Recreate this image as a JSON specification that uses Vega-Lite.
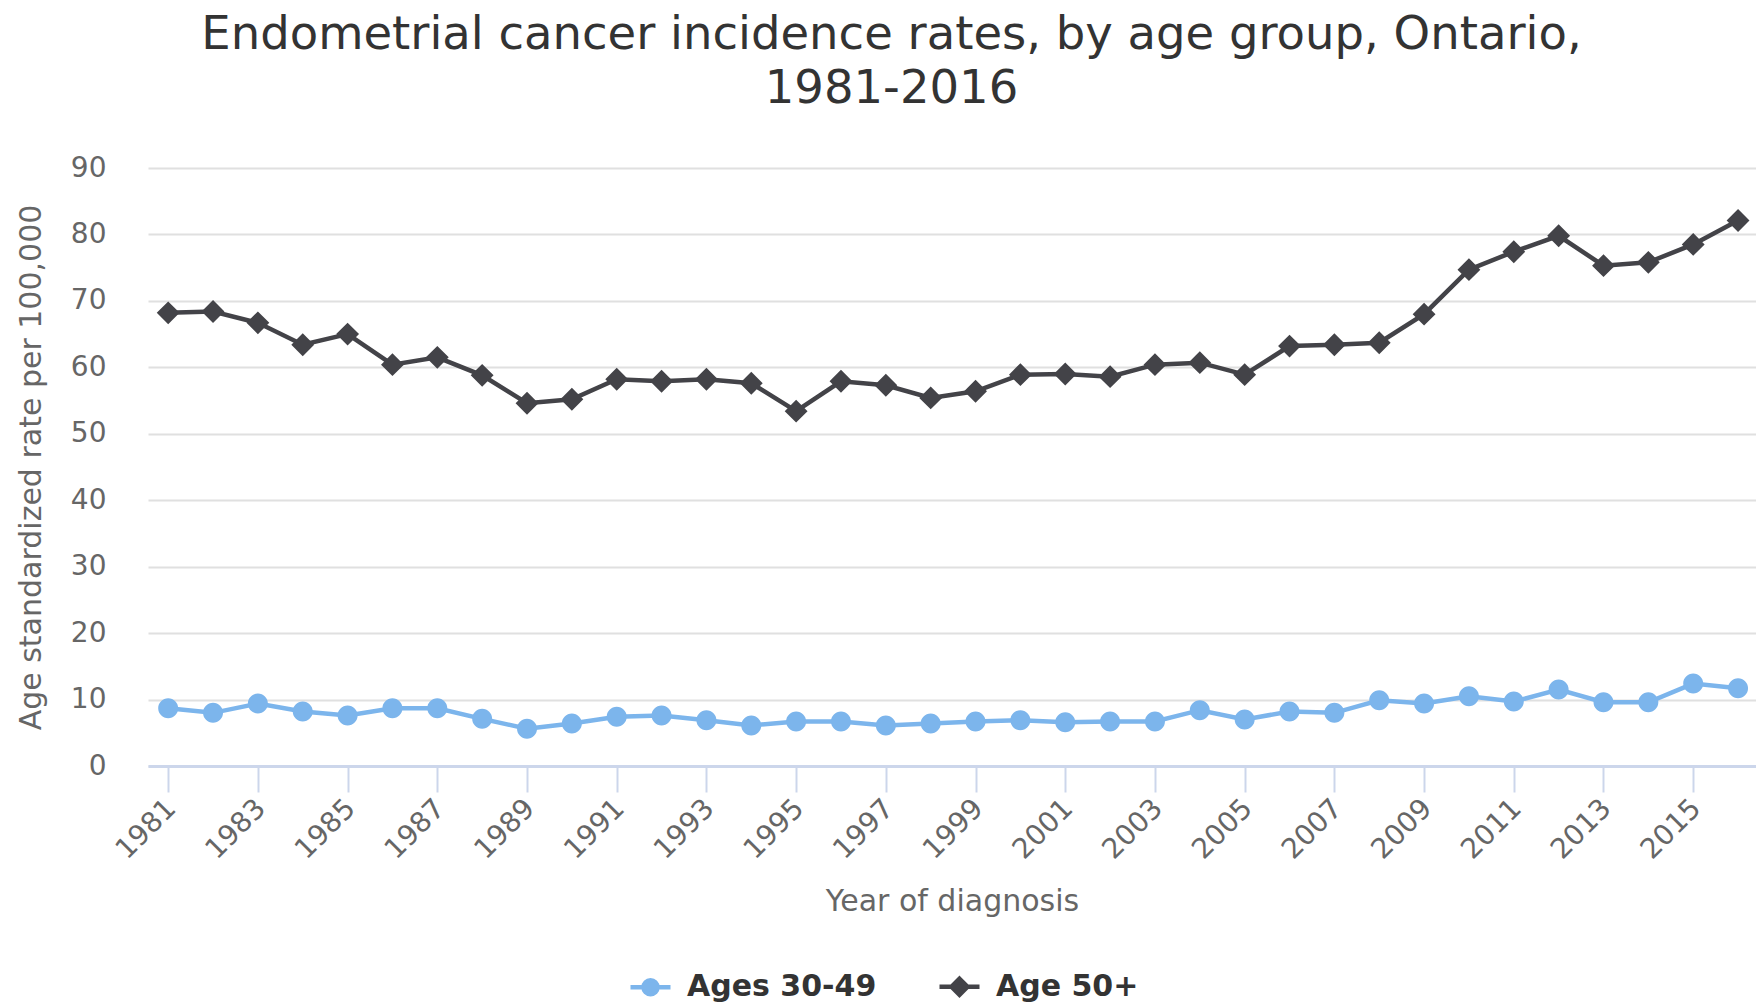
{
  "$schema": "https://vega.github.io/schema/vega-lite/v6.json",
  "width": 1608,
  "height": 598,
  "autosize": {"type": "none"},
  "padding": {"left": 148, "top": 168, "right": 0, "bottom": 240},
  "background": "white",
  "title": {
    "text": ["Endometrial cancer incidence rates, by age group, Ontario,", "1981-2016"],
    "fontSize": 46.5,
    "fontWeight": "normal",
    "color": "#333333",
    "font": "DejaVu Sans",
    "anchor": "middle",
    "frame": "bounds",
    "lineHeight": 54,
    "offset": 42
  },
  "data": {
    "values": [
      {"year": 1981, "series": "Ages 30-49", "rate": 8.7},
      {"year": 1982, "series": "Ages 30-49", "rate": 8.0},
      {"year": 1983, "series": "Ages 30-49", "rate": 9.4},
      {"year": 1984, "series": "Ages 30-49", "rate": 8.2},
      {"year": 1985, "series": "Ages 30-49", "rate": 7.6},
      {"year": 1986, "series": "Ages 30-49", "rate": 8.7},
      {"year": 1987, "series": "Ages 30-49", "rate": 8.7},
      {"year": 1988, "series": "Ages 30-49", "rate": 7.1},
      {"year": 1989, "series": "Ages 30-49", "rate": 5.6},
      {"year": 1990, "series": "Ages 30-49", "rate": 6.4},
      {"year": 1991, "series": "Ages 30-49", "rate": 7.4},
      {"year": 1992, "series": "Ages 30-49", "rate": 7.6},
      {"year": 1993, "series": "Ages 30-49", "rate": 6.9},
      {"year": 1994, "series": "Ages 30-49", "rate": 6.1},
      {"year": 1995, "series": "Ages 30-49", "rate": 6.7},
      {"year": 1996, "series": "Ages 30-49", "rate": 6.7},
      {"year": 1997, "series": "Ages 30-49", "rate": 6.1},
      {"year": 1998, "series": "Ages 30-49", "rate": 6.4},
      {"year": 1999, "series": "Ages 30-49", "rate": 6.7},
      {"year": 2000, "series": "Ages 30-49", "rate": 6.9},
      {"year": 2001, "series": "Ages 30-49", "rate": 6.6},
      {"year": 2002, "series": "Ages 30-49", "rate": 6.7},
      {"year": 2003, "series": "Ages 30-49", "rate": 6.7},
      {"year": 2004, "series": "Ages 30-49", "rate": 8.4},
      {"year": 2005, "series": "Ages 30-49", "rate": 7.0},
      {"year": 2006, "series": "Ages 30-49", "rate": 8.2},
      {"year": 2007, "series": "Ages 30-49", "rate": 8.0},
      {"year": 2008, "series": "Ages 30-49", "rate": 9.9},
      {"year": 2009, "series": "Ages 30-49", "rate": 9.4},
      {"year": 2010, "series": "Ages 30-49", "rate": 10.5},
      {"year": 2011, "series": "Ages 30-49", "rate": 9.7},
      {"year": 2012, "series": "Ages 30-49", "rate": 11.5},
      {"year": 2013, "series": "Ages 30-49", "rate": 9.6},
      {"year": 2014, "series": "Ages 30-49", "rate": 9.6},
      {"year": 2015, "series": "Ages 30-49", "rate": 12.4},
      {"year": 2016, "series": "Ages 30-49", "rate": 11.7},
      {"year": 1981, "series": "Age 50+", "rate": 68.2},
      {"year": 1982, "series": "Age 50+", "rate": 68.4},
      {"year": 1983, "series": "Age 50+", "rate": 66.7},
      {"year": 1984, "series": "Age 50+", "rate": 63.4},
      {"year": 1985, "series": "Age 50+", "rate": 65.0},
      {"year": 1986, "series": "Age 50+", "rate": 60.4},
      {"year": 1987, "series": "Age 50+", "rate": 61.5},
      {"year": 1988, "series": "Age 50+", "rate": 58.8},
      {"year": 1989, "series": "Age 50+", "rate": 54.6},
      {"year": 1990, "series": "Age 50+", "rate": 55.2},
      {"year": 1991, "series": "Age 50+", "rate": 58.2},
      {"year": 1992, "series": "Age 50+", "rate": 57.9},
      {"year": 1993, "series": "Age 50+", "rate": 58.2},
      {"year": 1994, "series": "Age 50+", "rate": 57.6},
      {"year": 1995, "series": "Age 50+", "rate": 53.4},
      {"year": 1996, "series": "Age 50+", "rate": 57.9},
      {"year": 1997, "series": "Age 50+", "rate": 57.3},
      {"year": 1998, "series": "Age 50+", "rate": 55.4},
      {"year": 1999, "series": "Age 50+", "rate": 56.4},
      {"year": 2000, "series": "Age 50+", "rate": 58.9},
      {"year": 2001, "series": "Age 50+", "rate": 59.0},
      {"year": 2002, "series": "Age 50+", "rate": 58.6},
      {"year": 2003, "series": "Age 50+", "rate": 60.4},
      {"year": 2004, "series": "Age 50+", "rate": 60.7},
      {"year": 2005, "series": "Age 50+", "rate": 58.9},
      {"year": 2006, "series": "Age 50+", "rate": 63.2},
      {"year": 2007, "series": "Age 50+", "rate": 63.4},
      {"year": 2008, "series": "Age 50+", "rate": 63.7},
      {"year": 2009, "series": "Age 50+", "rate": 68.0},
      {"year": 2010, "series": "Age 50+", "rate": 74.7},
      {"year": 2011, "series": "Age 50+", "rate": 77.4},
      {"year": 2012, "series": "Age 50+", "rate": 79.8},
      {"year": 2013, "series": "Age 50+", "rate": 75.3},
      {"year": 2014, "series": "Age 50+", "rate": 75.8},
      {"year": 2015, "series": "Age 50+", "rate": 78.5},
      {"year": 2016, "series": "Age 50+", "rate": 82.1}
    ]
  },
  "encoding": {
    "x": {
      "field": "year",
      "type": "quantitative",
      "scale": {"domain": [1980.55, 2016.4], "nice": false, "zero": false},
      "axis": {
        "values": [1981, 1983, 1985, 1987, 1989, 1991, 1993, 1995, 1997, 1999, 2001, 2003, 2005, 2007, 2009, 2011, 2013, 2015],
        "format": "d",
        "labelAngle": -45,
        "labelAlign": "right",
        "labelBaseline": "middle",
        "labelFontSize": 28,
        "labelColor": "#666666",
        "labelFont": "DejaVu Sans",
        "labelPadding": 12,
        "labelOffset": 3,
        "labelFlush": false,
        "labelOverlap": false,
        "tickSize": 26,
        "tickColor": "#ccd6eb",
        "tickWidth": 2,
        "domainColor": "#ccd6eb",
        "domainWidth": 3,
        "grid": false,
        "title": "Year of diagnosis",
        "titleFont": "DejaVu Sans",
        "titleFontSize": 30,
        "titleFontWeight": "normal",
        "titleColor": "#666666",
        "titlePadding": 22
      }
    },
    "y": {
      "field": "rate",
      "type": "quantitative",
      "scale": {"domain": [0, 90], "nice": false},
      "axis": {
        "values": [0, 10, 20, 30, 40, 50, 60, 70, 80, 90],
        "labelFontSize": 28,
        "labelColor": "#666666",
        "labelFont": "DejaVu Sans",
        "labelPadding": 42,
        "ticks": false,
        "domain": false,
        "grid": true,
        "gridColor": "#e0e0e0",
        "gridWidth": 2,
        "title": "Age standardized rate per 100,000",
        "titleFont": "DejaVu Sans",
        "titleFontSize": 30,
        "titleFontWeight": "normal",
        "titleColor": "#666666",
        "titlePadding": 24
      }
    }
  },
  "layer": [
    {
      "mark": {"type": "line", "strokeWidth": 4.5},
      "encoding": {
        "detail": {"field": "series", "type": "nominal"},
        "color": {"condition": {"test": "datum.series === 'Age 50+'", "value": "#434348"}, "value": "#7cb5ec"}
      }
    },
    {
      "mark": {"type": "point", "filled": true, "opacity": 1, "strokeWidth": 0, "size": 3265},
      "encoding": {
        "fill": {
          "field": "series",
          "type": "nominal",
          "scale": {"domain": ["Ages 30-49", "Age 50+"], "range": ["#7cb5ec", "#434348"]},
          "legend": {
            "title": null,
            "orient": "none",
            "legendX": 480,
            "legendY": 796,
            "direction": "horizontal",
            "symbolSize": 1600,
            "symbolStrokeWidth": 4.5,
            "labelFont": "DejaVu Sans",
            "labelFontSize": 30,
            "labelFontWeight": "bold",
            "labelColor": "#333333",
            "labelOffset": 14,
            "labelLimit": 500,
            "columnPadding": 53
          }
        },
        "stroke": {
          "field": "series",
          "type": "nominal",
          "scale": {"domain": ["Ages 30-49", "Age 50+"], "range": ["#7cb5ec", "#434348"]},
          "legend": {
            "title": null,
            "orient": "none",
            "legendX": 480,
            "legendY": 796,
            "direction": "horizontal",
            "symbolSize": 1600,
            "symbolStrokeWidth": 4.5,
            "labelFont": "DejaVu Sans",
            "labelFontSize": 30,
            "labelFontWeight": "bold",
            "labelColor": "#333333",
            "labelOffset": 14,
            "labelLimit": 500,
            "columnPadding": 53
          }
        },
        "shape": {
          "field": "series",
          "type": "nominal",
          "scale": {
            "domain": ["Ages 30-49", "Age 50+"],
            "range": [
              "M-1,0H1M-0.35,0A0.35,0.35,0,1,0,0.35,0A0.35,0.35,0,1,0,-0.35,0Z",
              "M-1,0H1M0,-0.4L0.4,0L0,0.4L-0.4,0Z"
            ]
          },
          "legend": {
            "title": null,
            "orient": "none",
            "legendX": 480,
            "legendY": 796,
            "direction": "horizontal",
            "symbolSize": 1600,
            "symbolStrokeWidth": 4.5,
            "labelFont": "DejaVu Sans",
            "labelFontSize": 30,
            "labelFontWeight": "bold",
            "labelColor": "#333333",
            "labelOffset": 14,
            "labelLimit": 500,
            "columnPadding": 53
          }
        }
      }
    }
  ],
  "config": {"view": {"stroke": null}, "font": "DejaVu Sans"}
}
